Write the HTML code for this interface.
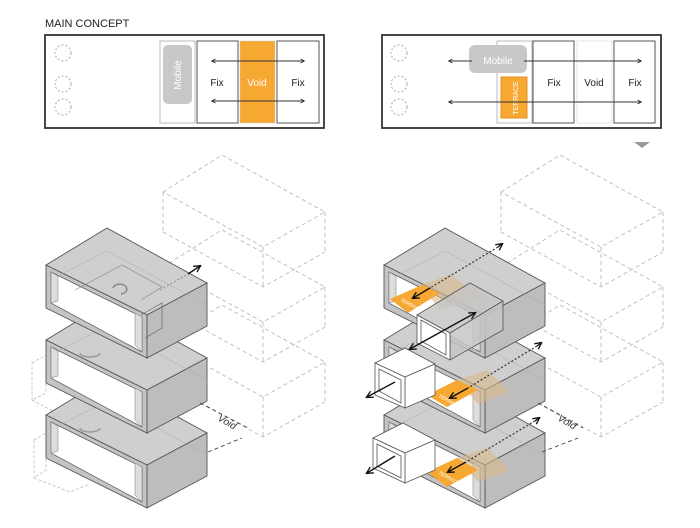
<!DOCTYPE html>
<html><head><meta charset="utf-8"><style>
html,body{margin:0;padding:0;background:#fff;}
svg{display:block;font-family:"Liberation Sans",sans-serif;}
</style></head><body>
<svg width="700" height="528" viewBox="0 0 700 528" xmlns="http://www.w3.org/2000/svg">
<defs>
<marker id="ah" viewBox="0 0 10 10" refX="8" refY="5" markerWidth="6" markerHeight="6" orient="auto-start-reverse"><path d="M1,1 L9,5 L1,9" fill="none" stroke="#111" stroke-width="1.6"/></marker>
<marker id="ahs" viewBox="0 0 10 10" refX="8" refY="5" markerWidth="5" markerHeight="5" orient="auto-start-reverse"><path d="M1,1 L9,5 L1,9" fill="none" stroke="#222" stroke-width="1.4"/></marker>
<g id="ghost" fill="none" stroke="#bbb" stroke-width="0.9" stroke-dasharray="4,3">
  <polygon points="163,192 222,155 325,212 263,247"/>
  <line x1="163" y1="192" x2="163" y2="232"/><line x1="263" y1="247" x2="263" y2="287"/><line x1="325" y1="212" x2="325" y2="252"/>
  <polyline points="163,232 263,287 325,252"/>
</g>
<g id="box">
  <polygon points="46,0 107,-37 207,18 147,50" fill="#cfcfcf" stroke="#555" stroke-width="0.9"/>
  <polygon points="147,50 207,18 207,61 147,93" fill="#bdbdbd" stroke="#555" stroke-width="0.9"/>
  <polygon points="46,0 147,50 147,93 46,43" fill="#c4c4c4" stroke="#555" stroke-width="0.9"/>
  <polygon points="51,7 142,52 142,87 51,38" fill="#fff" stroke="#555" stroke-width="0.7"/>
  <polygon points="51,7 58,11 58,36 51,38" fill="#ddd" stroke="#777" stroke-width="0.5"/>
  <polygon points="135,48 142,52 142,87 135,80" fill="#ddd" stroke="#777" stroke-width="0.5"/>
  <polyline points="58,11 107,-14 207,40" fill="none" stroke="#aaa" stroke-width="0.5"/>
</g>
</defs>

<text x="45" y="27" font-size="11" fill="#222">MAIN CONCEPT</text>
<rect x="45" y="35" width="279" height="93" fill="#fff" stroke="#333" stroke-width="1.8"/>
<g fill="none" stroke="#aaa" stroke-dasharray="2,2"><circle cx="63" cy="53" r="8"/><circle cx="63" cy="84" r="8"/><circle cx="63" cy="107" r="8"/></g>
<rect x="160" y="41" width="35" height="82" fill="#fff" stroke="#bbb"/>
<rect x="163" y="45" width="29" height="59" rx="5" fill="#c8c8c8"/>
<text transform="translate(181,75) rotate(-90)" text-anchor="middle" font-size="10" fill="#fff">Mobile</text>
<rect x="197" y="41" width="41" height="82" fill="#fff" stroke="#555"/>
<rect x="240" y="41" width="35" height="82" fill="#f7a833" stroke="#ccc" stroke-dasharray="1,1"/>
<rect x="277" y="41" width="42" height="82" fill="#fff" stroke="#555"/>
<text x="217" y="86" text-anchor="middle" font-size="10" fill="#222">Fix</text>
<text x="257" y="86" text-anchor="middle" font-size="10" fill="#fff">Void</text>
<text x="298" y="86" text-anchor="middle" font-size="10" fill="#222">Fix</text>
<line x1="212" y1="61" x2="304" y2="61" stroke="#333" marker-start="url(#ahs)" marker-end="url(#ahs)"/>
<line x1="212" y1="101" x2="304" y2="101" stroke="#333" marker-start="url(#ahs)" marker-end="url(#ahs)"/>

<rect x="382" y="35" width="279" height="93" fill="#fff" stroke="#333" stroke-width="1.8"/>
<g fill="none" stroke="#aaa" stroke-dasharray="2,2"><circle cx="399" cy="53" r="8"/><circle cx="399" cy="84" r="8"/><circle cx="399" cy="107" r="8"/></g>
<rect x="497" y="41" width="35" height="82" fill="#fff" stroke="#bbb"/>
<rect x="469" y="45" width="58" height="28" rx="6" fill="#c8c8c8"/>
<rect x="501" y="77" width="26" height="41" fill="#f7a833" stroke="#e09020"/>
<text transform="translate(518,98) rotate(-90)" text-anchor="middle" font-size="7" fill="#fff">TERRACE</text>
<rect x="533" y="41" width="41" height="82" fill="#fff" stroke="#555"/>
<rect x="577" y="41" width="35" height="82" fill="#fff" stroke="#ccc" stroke-dasharray="1,1"/>
<rect x="614" y="41" width="41" height="82" fill="#fff" stroke="#555"/>
<text x="554" y="86" text-anchor="middle" font-size="10" fill="#222">Fix</text>
<text x="594" y="86" text-anchor="middle" font-size="10" fill="#222">Void</text>
<text x="635" y="86" text-anchor="middle" font-size="10" fill="#222">Fix</text>
<line x1="449" y1="61" x2="641" y2="61" stroke="#333" marker-start="url(#ahs)" marker-end="url(#ahs)"/>
<line x1="449" y1="102" x2="641" y2="102" stroke="#333" marker-start="url(#ahs)" marker-end="url(#ahs)"/>
<rect x="472" y="55" width="52" height="12" fill="#c8c8c8"/>
<text x="498" y="64" text-anchor="middle" font-size="10" fill="#fff">Mobile</text>
<polygon points="634,142 650,142 642,148" fill="#999"/>

<use href="#ghost"/><use href="#ghost" y="75"/><use href="#ghost" y="150"/>
<g fill="none" stroke="#bbb" stroke-width="0.8" stroke-dasharray="3,2">
  <polygon points="32,363 46,355 46,393 32,400"/><polyline points="32,400 70,420 90,410"/>
  <polygon points="34,440 46,433 46,470 34,478"/><polyline points="34,478 70,492 90,484"/>
</g>
<use href="#box" y="415"/>
<use href="#box" y="340"/>
<use href="#box" y="265"/>
<polyline points="75,290 122,265 162,287 141,300" fill="none" stroke="#888" stroke-width="0.7"/>
<polyline points="141,315 162,303 162,328 145,338" fill="none" stroke="#666" stroke-width="0.7"/>
<path d="M113,288 a7,5 0 1,1 8,6" fill="none" stroke="#888" stroke-width="1.5"/>
<path d="M80,353 a10,4 0 0,0 20,0" fill="none" stroke="#999" stroke-width="1.5"/>
<path d="M80,428 a10,4 0 0,0 20,0" fill="none" stroke="#999" stroke-width="1.5"/>
<line x1="160" y1="290" x2="188" y2="274" stroke="#888" stroke-dasharray="2,2"/>
<line x1="188" y1="274" x2="200" y2="266" stroke="#111" stroke-width="1.4" marker-end="url(#ah)"/>
<g stroke="#444" stroke-width="0.9" stroke-dasharray="4,3"><line x1="200" y1="403" x2="248" y2="428"/><line x1="208" y1="452" x2="242" y2="438"/></g>
<text transform="translate(217,420) rotate(30)" font-size="10" font-style="italic" fill="#333">Void</text>

<g transform="translate(338,0)">
<use href="#ghost"/><use href="#ghost" y="75"/><use href="#ghost" y="150"/>
<use href="#box" y="415"/>
<use href="#box" y="340"/>
<use href="#box" y="265"/>
<g stroke="#444" stroke-width="0.9" stroke-dasharray="4,3"><line x1="200" y1="403" x2="245" y2="428"/><line x1="204" y1="452" x2="240" y2="438"/></g>
<text transform="translate(219,420) rotate(30)" font-size="10" font-style="italic" fill="#333">Void</text>
</g>
<polygon points="420,285 450,275 483,297 440,310" fill="#d9b88a" opacity="0.6"/>
<polygon points="390,299 422,285 440,293 408,313" fill="#f7a833"/>
<polygon points="457,380 487,370 510,392 478,404" fill="#d9b88a" opacity="0.6"/>
<polygon points="427,395 457,380 478,390 447,407" fill="#f7a833"/>
<polygon points="457,458 487,448 510,470 478,482" fill="#d9b88a" opacity="0.6"/>
<polygon points="427,472 457,458 478,470 447,487" fill="#f7a833"/>
<g stroke="#555" stroke-width="0.8">
  <polygon points="417,315 470,283 503,301 450,333" fill="#c6c6c6" fill-opacity="0.85"/>
  <polygon points="450,333 503,301 503,330 450,360" fill="#c6c6c6" fill-opacity="0.85"/>
  <polygon points="417,315 450,333 450,360 417,343" fill="#fff"/>
  <polygon points="421,320 446,334 446,355 421,341" fill="#fff"/>
  <polygon points="375,363 405,348 435,364 405,377" fill="#fff"/>
  <polygon points="405,377 435,364 435,395 405,408" fill="#fff"/>
  <polygon points="375,363 405,377 405,408 375,395" fill="#fff"/>
  <polygon points="379,369 401,380 401,403 379,391" fill="#fff"/>
  <polygon points="373,438 403,423 435,440 405,453" fill="#fff"/>
  <polygon points="405,453 435,440 435,470 405,483" fill="#fff"/>
  <polygon points="373,438 405,453 405,483 373,468" fill="#fff"/>
  <polygon points="377,444 401,456 401,478 377,466" fill="#fff"/>
</g>
<g stroke="#333" stroke-width="1.2" stroke-dasharray="2,2" fill="none">
<line x1="498" y1="247" x2="430" y2="288"/><line x1="537" y1="346" x2="468" y2="388"/><line x1="535" y1="421" x2="466" y2="462"/>
</g>
<g stroke="#111" stroke-width="1.4" fill="none">
<line x1="498" y1="247" x2="502" y2="244" marker-end="url(#ah)"/>
<line x1="430" y1="288" x2="413" y2="298" marker-end="url(#ah)"/>
<line x1="475" y1="313" x2="410" y2="349" marker-start="url(#ah)" marker-end="url(#ah)"/>
<line x1="537" y1="346" x2="541" y2="343" marker-end="url(#ah)"/>
<line x1="468" y1="388" x2="450" y2="398" marker-end="url(#ah)"/>
<line x1="395" y1="382" x2="367" y2="397" marker-end="url(#ah)"/>
<line x1="535" y1="421" x2="539" y2="418" marker-end="url(#ah)"/>
<line x1="466" y1="462" x2="448" y2="472" marker-end="url(#ah)"/>
<line x1="395" y1="456" x2="367" y2="473" marker-end="url(#ah)"/>
</g>
<g font-size="5" fill="#fff"><text transform="translate(400,301) rotate(28)">TERRACE</text><text transform="translate(438,397) rotate(28)">TERRACE</text><text transform="translate(438,474) rotate(28)">TERRACE</text></g>
</svg>
</body></html>
